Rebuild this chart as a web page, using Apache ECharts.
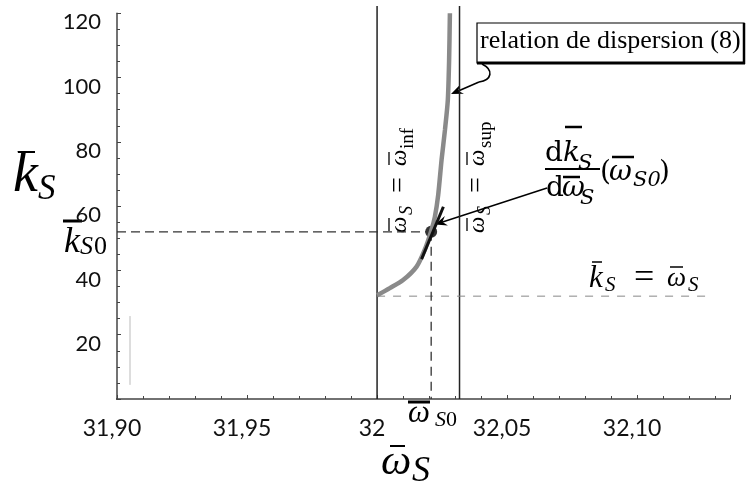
<!DOCTYPE html>
<html><head><meta charset="utf-8">
<script src="https://cdn.jsdelivr.net/npm/echarts@6/dist/echarts.min.js"></script>
<style>html,body{margin:0;padding:0;background:#fff}#c{width:747px;height:486px}</style>
</head><body><div id="c"></div>
<script>
// ---- data ----
const curveOmega = [32.0000, 32.0049, 32.0100, 32.0152, 32.0183, 32.0207, 32.0222, 32.0235, 32.0248, 32.0261, 32.0272, 32.0277, 32.0280];
const curveK     = [32.3,    34.5,    37.0,    41.2,    46.4,    52.0,    56.6,    63.5,    74.4,    83.7,    93.0,    105.5,   120.0];
const omegaInf = 32.0000;
const omegaSup = 32.0317;
const omegaS0 = 32.0208;
const kS0 = 52.0;
const kEqOmega = 32.0;            // level of k_S = omega_S line
const kEqOmegaEnd = 32.1287;
const verticalTop = 122.3;
const tangentOmega = [32.0171, 32.0255];
const tangentK = [43.5, 59.8];
const xTickValues = [31.90, 31.95, 32.00, 32.05, 32.10];
const xTickLabels = ['31,90', '31,95', '32', '32,05', '32,10'];
const yTickValues = [20, 40, 60, 80, 100, 120];
const yTickLabels = ['20', '40', '60', '80', '100', '120'];
const xMin = 31.90, xMax = 32.1357, xStubStart = 31.8946;
const yMin = 0, yMax = 120;
const scanMarkOmega = [31.905, 31.905];
const scanMarkK = [4.4, 25.8];

const chart = echarts.init(document.getElementById('c'), null, {renderer: 'canvas'});

const CM = '"Liberation Serif"';
const CA = '"DejaVu Serif"';
function T(text, x, base, size, opt) {
  opt = opt || {};
  const fam = opt.fam || CM;
  const k = fam === CM ? 0.29 : 0.33;
  const font = (opt.italic ? 'italic ' : '') + size + 'px ' + fam;
  return {type: 'text', x: x, y: base - k * size, silent: true,
    style: {text: text, font: font, fill: '#000', align: 'left', verticalAlign: 'middle',
            textAlign: 'left', textVerticalAlign: 'middle'}};
}
function L(x1, y1, x2, y2, w, color) {
  return {type: 'line', silent: true, shape: {x1: x1, y1: y1, x2: x2, y2: y2},
          style: {stroke: color || '#000', lineWidth: w || 1}};
}
function arrowHead(tx, ty, fx, fy, len, half) {
  const dx = tx - fx, dy = ty - fy, d = Math.hypot(dx, dy);
  const ux = dx / d, uy = dy / d, nx = -uy, ny = ux;
  const bx = tx - len * ux, by = ty - len * uy;
  const mx = tx - 0.65 * len * ux, my = ty - 0.65 * len * uy;
  return {type: 'polygon', silent: true,
    shape: {points: [[tx, ty], [bx + half * nx, by + half * ny], [mx, my], [bx - half * nx, by - half * ny]]},
    style: {fill: '#000'}};
}
function rotGroup(x, y, children) {
  return {type: 'group', x: x, y: y, rotation: Math.PI / 2, children: children};
}

const graphics = [
  // y-axis title  k̄_S
  T('k', 13, 193, 56, {italic: true}),
  L(18, 152, 35, 152, 2),
  T('S', 38, 200, 35, {italic: true}),
  // k̄_S0 label
  T('k', 64, 253, 36, {italic: true}),
  L(63, 221, 82, 221, 3),
  T('S', 80, 255, 26, {italic: true}),
  T('0', 94, 255, 26),
  // ω̄_S0 label under the axis
  T('ω', 408, 423, 31, {italic: true}),
  L(408, 402, 430, 402, 3),
  T('S', 435, 427, 22, {italic: true}),
  T('0', 446, 427, 22),
  // x-axis title ω̄_S
  T('ω', 381, 475, 43, {italic: true}),
  L(390, 446, 405, 446, 2),
  T('S', 412, 482, 36, {italic: true}),
  // k̄_S = ω̄_S
  T('k', 589, 288, 31, {italic: true}),
  L(592, 262, 602, 262, 1.5),
  T('S', 605, 292, 21, {italic: true}),
  T('=', 634, 289, 36),
  T('ω', 667, 287, 27, {italic: true}),
  L(670, 267, 683, 267, 1.5),
  T('S', 688, 292, 21, {italic: true}),
  // relation de dispersion box
  {type: 'rect', silent: true, shape: {x: 477, y: 23, width: 267, height: 40},
   style: {fill: '#fff', stroke: '#000', lineWidth: 1.2}},
  L(477, 63, 745, 63, 3),
  L(744, 23, 744, 64, 2.5),
  T('relation de dispersion (8)', 480, 49, 26),
  // squiggly arrow from box to the curve
  {type: 'bezierCurve', silent: true,
   shape: {x1: 482, y1: 64, cpx1: 494, cpy1: 70, cpx2: 492, cpy2: 80, x2: 479, y2: 82},
   style: {stroke: '#000', lineWidth: 1.6, fill: null}},
  L(479, 82, 456, 92, 1.6),
  arrowHead(451, 94, 479, 82, 12, 5),
  // derivative fraction
  T('d', 545, 163, 28, {fam: CA}),
  T('k', 563, 163, 28, {fam: CA, italic: true}),
  L(565, 127, 582, 127, 2.5),
  T('S', 578, 170, 21, {fam: CA, italic: true}),
  L(545, 169, 600, 169, 2.2),
  T('d', 546, 198, 28, {fam: CA}),
  T('ω', 562, 198, 28, {fam: CA, italic: true}),
  L(563, 177, 580, 177, 2.5),
  T('S', 580, 205, 21, {fam: CA, italic: true}),
  T('(', 600, 182, 28, {fam: CA}),
  T('ω', 609, 182, 28, {fam: CA, italic: true}),
  L(612, 157, 634, 157, 2.5),
  T('S0', 633, 187, 21, {fam: CA, italic: true}),
  T(')', 659, 182, 28, {fam: CA}),
  // arrow from fraction to the point
  L(547, 188, 441, 222.5, 1.4),
  arrowHead(435, 224.5, 547, 188, 12, 5),
  // rotated ω̄_S = ω̄_inf
  rotGroup(407, 233, [
    T('ω', 0, 0, 23, {italic: true}),
    L(2, -18, 15, -18, 1.3),
    T('S', 18, 5, 18, {italic: true}),
    T('=', 40, 0, 28),
    T('ω', 67, 0, 23, {italic: true}),
    L(68, -18, 81, -18, 1.3),
    T('inf', 84, 7, 19)
  ]),
  // rotated ω̄_S = ω̄_sup
  rotGroup(485, 233, [
    T('ω', 0, 0, 23, {italic: true}),
    L(2, -18, 15, -18, 1.3),
    T('S', 18, 5, 18, {italic: true}),
    T('=', 40, 0, 28),
    T('ω', 67, 0, 23, {italic: true}),
    L(68, -18, 81, -18, 1.3),
    T('sup', 85, 7, 19)
  ])
];

function xLabel(v) {
  for (let i = 0; i < xTickValues.length; i++) if (Math.abs(v - xTickValues[i]) < 1e-6) return xTickLabels[i];
  return '';
}
function yLabel(v) {
  for (let i = 0; i < yTickValues.length; i++) if (Math.abs(v - yTickValues[i]) < 1e-6) return '{t|' + yTickLabels[i] + '}';
  return '';
}
const zip = (a, b) => a.map((v, i) => [v, b[i]]);

chart.setOption({
  animation: false,
  backgroundColor: '#fff',
  grid: {left: 117, right: 17, top: 13.3, bottom: 87},
  xAxis: {
    type: 'value', min: xMin, max: xMax, interval: 0.05,
    axisLine: {show: true, lineStyle: {color: '#444', width: 1.5}},
    axisTick: {show: true, inside: true, length: 4, lineStyle: {color: '#444'}},
    minorTick: {show: true, splitNumber: 5, length: 3, lineStyle: {color: '#444'}},
    splitLine: {show: false},
    axisLabel: {formatter: xLabel, fontFamily: 'Lato', fontSize: 23, color: '#111', margin: 18,
                padding: [0, 10, 0, 0], showMaxLabel: false}
  },
  yAxis: {
    type: 'value', min: yMin, max: yMax, interval: 20,
    axisLine: {show: true, lineStyle: {color: '#444', width: 1.5}},
    axisTick: {show: true, inside: true, length: 4, lineStyle: {color: '#444'}},
    minorTick: {show: true, splitNumber: 4, length: 3, lineStyle: {color: '#444'}},
    splitLine: {show: false},
    axisLabel: {formatter: yLabel, color: '#111', margin: 16,
                rich: {t: {fontFamily: 'Lato', fontSize: 22, color: '#111', padding: [18, 0, 0, 0]}}}
  },
  series: [
    {type: 'line', data: [[xStubStart, 0], [xMin, 0]], clip: false, symbol: 'none',
     lineStyle: {color: '#444', width: 1.5}, silent: true},
    {type: 'line', data: zip(scanMarkOmega, scanMarkK), symbol: 'none',
     lineStyle: {color: '#bbb', width: 1}, silent: true},
    {type: 'line', data: [[omegaInf, 0], [omegaInf, verticalTop]], clip: false, symbol: 'none',
     lineStyle: {color: '#222', width: 1.5}, silent: true},
    {type: 'line', data: [[omegaSup, 0], [omegaSup, verticalTop]], clip: false, symbol: 'none',
     lineStyle: {color: '#222', width: 1.5}, silent: true},
    {type: 'line', data: [[omegaInf, kEqOmega], [kEqOmegaEnd, kEqOmega]], symbol: 'none',
     lineStyle: {color: '#888', width: 1, type: [8, 8]}, silent: true},
    {type: 'line', data: [[xMin, kS0], [omegaS0, kS0]], symbol: 'none',
     lineStyle: {color: '#333', width: 1.3, type: [9, 5]}, silent: true},
    {type: 'line', data: [[omegaS0, kS0], [omegaS0, 0]], symbol: 'none',
     lineStyle: {color: '#333', width: 1.3, type: [9, 6]}, silent: true},
    {type: 'line', data: zip(curveOmega, curveK), smooth: 0.25, symbol: 'none', clip: false,
     lineStyle: {color: '#8a8a8a', width: 4.5}, silent: true},
    {type: 'line', data: zip(tangentOmega, tangentK), symbol: 'none',
     lineStyle: {color: '#111', width: 3}, silent: true},
    {type: 'scatter', data: [[omegaS0, kS0]], symbol: 'circle', symbolSize: 12,
     itemStyle: {color: '#000'}, silent: true}
  ],
  graphic: graphics
});
</script></body></html>
